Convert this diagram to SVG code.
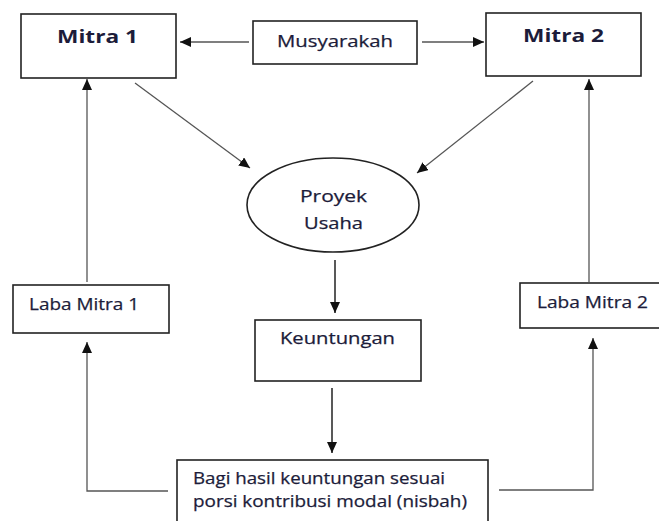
<svg xmlns="http://www.w3.org/2000/svg" width="659" height="521" viewBox="0 0 659 521">
  <style>
    .box { fill: #ffffff; stroke: #222222; stroke-width: 1.6; }
    .lbl { font-family: "Open Sans", "Liberation Sans", sans-serif; fill: #1c1c3a; font-size: 16.5px; stroke: #1c1c3a; stroke-width: 0.25; }
    .big { font-size: 18px; font-weight: bold; stroke-width: 0; }
    .wire { fill: none; stroke: #555555; stroke-width: 1.3; marker-end: url(#arrow); }
    .wire.dark { stroke: #222222; stroke-width: 1.5; }
  </style>
  <defs>
    <marker id="arrow" markerUnits="userSpaceOnUse" markerWidth="12" markerHeight="10" refX="11" refY="5" orient="auto">
      <path d="M0,0 L11,5 L0,10 Z" fill="#111111"/>
    </marker>
  </defs>

  <rect width="659" height="521" fill="#ffffff"/>

  <!-- connectors -->
  <g id="connectors">
    <line class="wire" x1="249" y1="42" x2="180" y2="42"/>
    <line class="wire" x1="422" y1="42" x2="484" y2="42"/>
    <line class="wire" x1="135" y1="83" x2="250" y2="168"/>
    <line class="wire" x1="533" y1="81" x2="417" y2="173"/>
    <line class="wire dark" x1="335" y1="260" x2="335" y2="313"/>
    <line class="wire dark" x1="332" y1="388" x2="332" y2="453"/>
    <line class="wire" x1="87" y1="282" x2="87" y2="79"/>
    <line class="wire" x1="589" y1="282" x2="589" y2="79"/>
    <polyline class="wire" points="168,491 87,491 87,342"/>
    <polyline class="wire" points="499,490 593,490 593,338"/>
  </g>

  <g id="mitra1">
    <rect class="box" x="21" y="14" width="155" height="64"/>
    <text class="lbl big" x="57" y="43" textLength="81" lengthAdjust="spacingAndGlyphs">Mitra 1</text>
  </g>

  <g id="musyarakah">
    <rect class="box" x="253" y="21" width="164" height="43"/>
    <text class="lbl" x="277" y="47" textLength="116" lengthAdjust="spacingAndGlyphs">Musyarakah</text>
  </g>

  <g id="mitra2">
    <rect class="box" x="486" y="13" width="155" height="63"/>
    <text class="lbl big" x="523" y="42" textLength="81" lengthAdjust="spacingAndGlyphs">Mitra 2</text>
  </g>

  <g id="proyek-usaha">
    <ellipse cx="333" cy="205" rx="86" ry="47" fill="#ffffff" stroke="#222222" stroke-width="1.6"/>
    <text class="lbl" x="300" y="202" textLength="67" lengthAdjust="spacingAndGlyphs">Proyek</text>
    <text class="lbl" x="304" y="229" textLength="59" lengthAdjust="spacingAndGlyphs">Usaha</text>
  </g>

  <g id="keuntungan">
    <rect class="box" x="255" y="320" width="166" height="61"/>
    <text class="lbl" x="280" y="344" textLength="115" lengthAdjust="spacingAndGlyphs">Keuntungan</text>
  </g>

  <g id="laba-mitra1">
    <rect class="box" x="13" y="285" width="156" height="48"/>
    <text class="lbl" x="29" y="310" textLength="110" lengthAdjust="spacingAndGlyphs">Laba Mitra 1</text>
  </g>

  <g id="laba-mitra2">
    <rect class="box" x="520" y="283" width="145" height="45"/>
    <text class="lbl" x="537" y="308" textLength="111" lengthAdjust="spacingAndGlyphs">Laba Mitra 2</text>
  </g>

  <g id="bagi-hasil">
    <rect class="box" x="177" y="460" width="311" height="75"/>
    <text class="lbl" x="193" y="484" textLength="252" lengthAdjust="spacingAndGlyphs">Bagi hasil keuntungan sesuai</text>
    <text class="lbl" x="193" y="507" textLength="274" lengthAdjust="spacingAndGlyphs">porsi kontribusi modal (nisbah)</text>
  </g>
</svg>
